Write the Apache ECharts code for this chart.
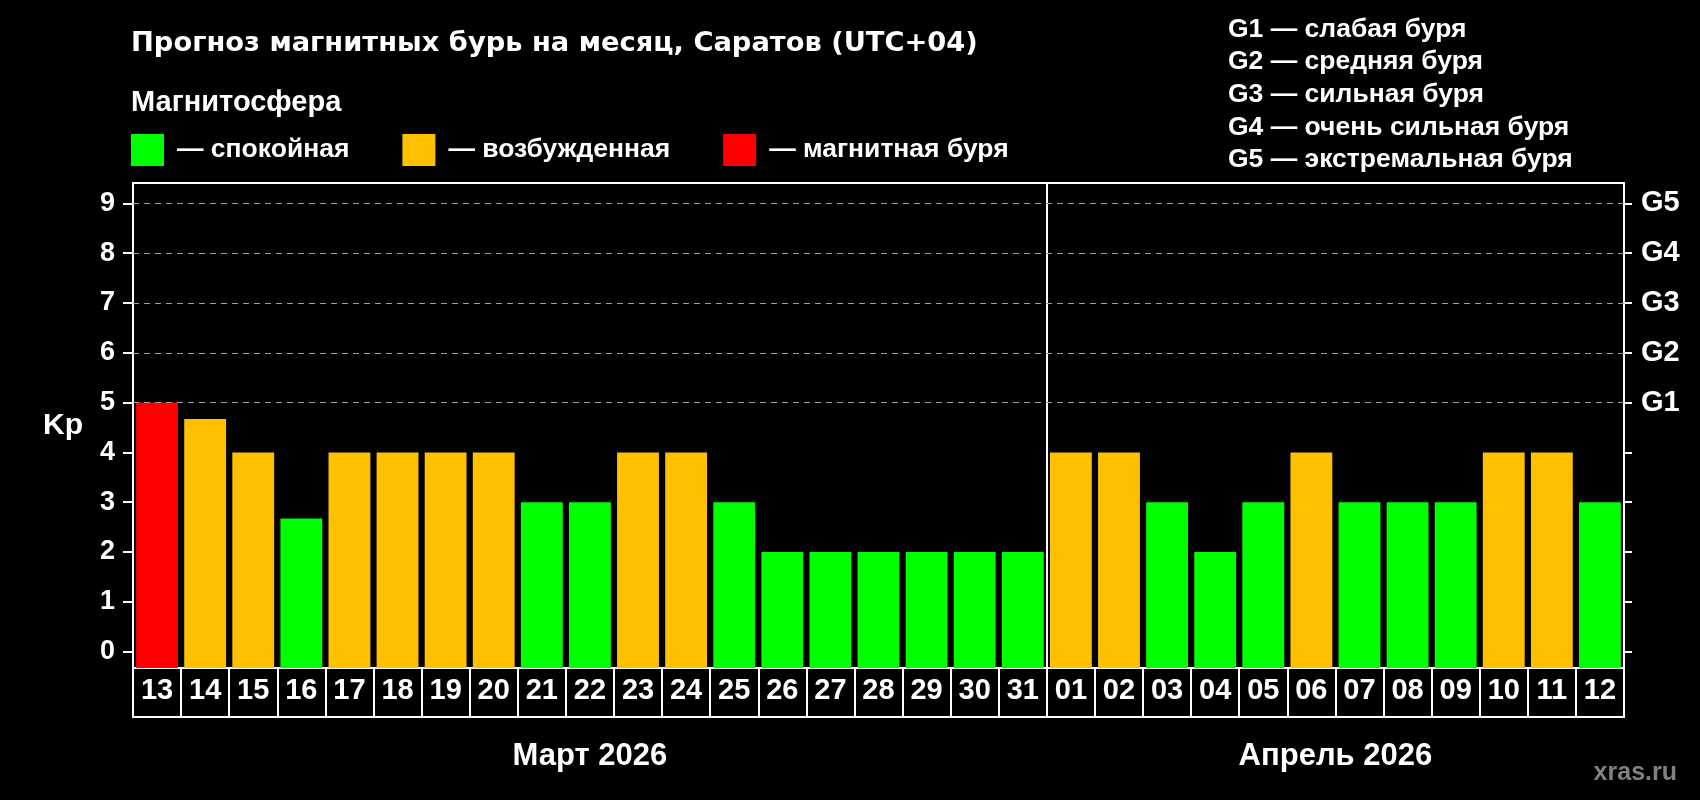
<!DOCTYPE html>
<html><head><meta charset="utf-8">
<script src="https://cdn.jsdelivr.net/npm/echarts@6/dist/echarts.min.js"></script>
<style>html,body{margin:0;padding:0;background:#000}#c{width:1700px;height:800px}</style>
</head><body><div id="c"></div>
<script>
// ---- data ----
const days = ['13','14','15','16','17','18','19','20','21','22','23','24','25','26','27','28','29','30','31',
              '01','02','03','04','05','06','07','08','09','10','11','12'];
const kp = [5, 4.67, 4, 2.67, 4, 4, 4, 4, 3, 3, 4, 4, 3, 2, 2, 2, 2, 2, 2,
            4, 4, 3, 2, 3, 4, 3, 3, 3, 4, 4, 3];
const monthLabels = ['Март 2026', 'Апрель 2026'];
const monthStart = ['13', '01'];
const monthEnd = ['31', '12'];
const kpTicks = [0, 1, 2, 3, 4, 5, 6, 7, 8, 9];
const gLevels = [5, 6, 7, 8, 9];
const gNames = ['G1', 'G2', 'G3', 'G4', 'G5'];
const gLegend = ['G1 — слабая буря', 'G2 — средняя буря', 'G3 — сильная буря', 'G4 — очень сильная буря', 'G5 — экстремальная буря'];
const statusNames = ['— спокойная', '— возбужденная', '— магнитная буря'];
const statusColors = ['#00ff00', '#ffc000', '#ff0000'];
const statusThresholds = [4, 5]; // Kp >= 4 excited, Kp >= 5 storm
const titleText = 'Прогноз магнитных бурь на месяц, Саратов (UTC+04)';
const subTitle = 'Магнитосфера';
const watermark = 'xras.ru';

// ---- layout constants ----
const Y_MIN = -0.33, Y_MAX = 9.41;
const SPLIT_INDEX = days.indexOf('01');
const FONT = '"Liberation Sans", Arial, sans-serif';
const FONT_WIDE = '"DejaVu Sans", sans-serif';

function statusOf(v) {
  if (v >= statusThresholds[1]) return 2;
  if (v >= statusThresholds[0]) return 1;
  return 0;
}

const chart = echarts.init(document.getElementById('c'));

const barSeries = statusNames.map((name, s) => {
  const ser = {
    type: 'custom',
    name: name,
    xAxisIndex: 0,
    yAxisIndex: 0,
    itemStyle: { color: statusColors[s] },
    encode: { x: 0, y: 1 },
    data: kp.map((v, i) => statusOf(v) === s ? [i, v] : null).filter(d => d),
    renderItem: function (params, api) {
      const i = api.value(0), v = api.value(1);
      const top = api.coord([i, v]);
      const base = api.coord([i, Y_MIN]);
      const w = api.size([1, 0])[0] * 0.87;
      return {
        type: 'rect',
        shape: { x: top[0] - w / 2, y: top[1], width: w, height: base[1] - top[1] },
        style: { fill: api.visual('color') }
      };
    }
  };
  if (s === 0) {
    ser.markLine = {
      silent: true,
      symbol: 'none',
      label: { show: false },
      lineStyle: { color: '#a0a0a0', type: [6, 5], width: 1 },
      data: gLevels.map(v => ({ yAxis: v }))
    };
    ser.markArea = {
      silent: true,
      itemStyle: { color: 'rgba(0,0,0,0)' },
      label: {
        show: true, position: 'bottom', distance: 73,
        color: '#fff', fontSize: 31, fontWeight: 'bold', fontFamily: FONT
      },
      data: monthLabels.map((m, k) => [
        { name: m, xAxis: monthStart[k], yAxis: Y_MIN },
        { xAxis: monthEnd[k], yAxis: Y_MIN }
      ])
    };
  }
  return ser;
});

const option = {
  backgroundColor: '#000',
  animation: false,
  textStyle: { fontFamily: FONT },
  title: [
    { text: titleText, left: 131, top: 30, padding: 0,
      textStyle: { color: '#fff', fontSize: 27.3, fontWeight: 'bold', fontFamily: FONT_WIDE } },
    { text: subTitle, left: 131, top: 88, padding: 0,
      textStyle: { color: '#fff', fontSize: 29, fontWeight: 'bold', fontFamily: FONT } },
    { text: gLegend.join('\n'), left: 1228, top: 13, padding: 0,
      textStyle: { color: '#fff', fontSize: 26.5, fontWeight: 'bold', lineHeight: 32.7, fontFamily: FONT } },
    { text: watermark, right: 23, top: 761, padding: 0,
      textStyle: { color: '#808080', fontSize: 25, fontWeight: 'bold', fontFamily: FONT } }
  ],
  legend: {
    left: 131, top: 134, padding: 0,
    icon: 'rect', itemWidth: 33, itemHeight: 32, itemGap: 53,
    selectedMode: false,
    data: statusNames,
    textStyle: { color: '#fff', fontSize: 26.5, fontWeight: 'bold', fontFamily: FONT, padding: [0, 0, 0, 8] }
  },
  grid: [
    { left: 133, right: 76, top: 183, height: 485, show: true, borderColor: '#fff', borderWidth: 2, backgroundColor: '#000' },
    { left: 133, right: 76, top: 668, height: 49, show: true, borderColor: '#fff', borderWidth: 2, backgroundColor: '#000' }
  ],
  xAxis: [
    { type: 'category', gridIndex: 0, data: days,
      axisLine: { show: false }, axisTick: { show: false }, axisLabel: { show: false },
      splitLine: { show: true, interval: (idx) => idx === 0 || idx === SPLIT_INDEX, lineStyle: { color: '#fff', width: 2 } } },
    { type: 'category', gridIndex: 1, data: days, position: 'bottom',
      axisLine: { show: true, lineStyle: { color: '#fff', width: 2 } },
      axisTick: { show: false },
      axisLabel: { inside: true, margin: 12, color: '#fff', fontSize: 29, fontWeight: 'bold', fontFamily: FONT, interval: 0 },
      splitLine: { show: true, interval: 0, lineStyle: { color: '#fff', width: 2 } } }
  ],
  yAxis: [
    { type: 'value', gridIndex: 0, position: 'left', min: Y_MIN, max: Y_MAX,
      name: 'Kp', nameLocation: 'middle', nameRotate: 0, nameGap: 50,
      nameTextStyle: { color: '#fff', fontSize: 30, fontWeight: 'bold', fontFamily: FONT },
      axisLine: { show: true, lineStyle: { color: '#fff', width: 2 } },
      axisTick: { show: true, length: 10, lineStyle: { color: '#fff', width: 2 }, customValues: kpTicks },
      axisLabel: { customValues: kpTicks, color: '#fff', fontSize: 27, fontWeight: 'bold', fontFamily: FONT, margin: 18 },
      splitLine: { show: false } },
    { type: 'value', gridIndex: 1, show: false },
    { type: 'value', gridIndex: 0, position: 'right', min: Y_MIN, max: Y_MAX,
      axisLine: { show: true, lineStyle: { color: '#fff', width: 2 } },
      axisTick: { show: true, length: 8, lineStyle: { color: '#fff', width: 2 }, customValues: kpTicks },
      axisLabel: { customValues: gLevels, color: '#fff', fontSize: 29, fontWeight: 'bold', fontFamily: FONT, margin: 17,
        formatter: v => gNames[gLevels.indexOf(Math.round(v))] || '' },
      splitLine: { show: false } }
  ],
  series: barSeries
};
chart.setOption(option);
</script>
</body></html>
